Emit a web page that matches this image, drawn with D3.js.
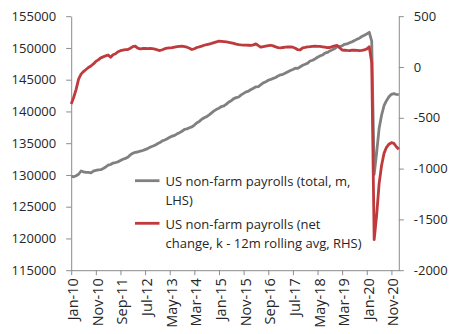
<!DOCTYPE html>
<html><head><meta charset="utf-8">
<script src="https://cdn.jsdelivr.net/npm/d3@7"></script>
<style>
body{margin:0;background:#fff}
svg text{font-family:"Open Sans",sans-serif;fill:#262626}
</style>
</head><body>
<svg id="chart" width="461" height="334"></svg>
<script>
// US non-farm payrolls, total (thousands) - left axis
const payrolls = [
  129798,129705,129865,130110,130620,130484,130406,130398,130340,130604,130732,130801,
  130823,131023,131252,131552,131648,131875,131956,132068,132273,132471,132610,132801,
  133161,133414,133563,133613,133745,133839,133993,134139,134367,134517,134667,134909,
  135099,135364,135500,135704,135932,136112,136228,136474,136664,136882,137163,137256,
  137428,137579,137866,138197,138429,138765,139003,139182,139451,139781,140084,140335,
  140512,140778,140866,141149,141493,141696,142015,142174,142275,142611,142847,143085,
  143212,143449,143665,143876,143917,144216,144505,144666,144914,145042,145202,145340,
  145595,145776,145856,146039,146250,146458,146613,146805,146791,147045,147268,147441,
  147607,147938,148070,148266,148537,148742,148882,149181,149290,149531,149707,149913,
  150191,150192,150360,150576,150638,150816,150965,151152,151360,151545,151806,151990,
  152203,152463,151090,130100,133500,137300,139400,140900,141700,142300,142700,142800,
  142700,142650
];
// Net change, thousands, 12m rolling average - right axis
const netChangeAvg = [
  -365,-300,-220,-120,-70,-45,-25,-5,10,30,55,70,
  90,100,110,118,95,120,130,150,160,165,170,172,
  185,200,205,185,178,182,183,180,182,180,175,168,
  162,170,180,185,188,190,195,200,203,205,200,195,
  185,172,180,192,198,205,214,220,226,232,240,248,
  254,252,250,247,243,238,232,226,221,218,216,215,
  214,212,218,228,210,195,200,205,210,214,208,198,
  190,188,192,195,198,197,195,185,170,168,189,193,
  198,200,203,205,204,202,199,195,190,192,200,207,
  212,190,167,165,163,162,165,166,164,162,163,168,
  178,200,45,-1700,-1460,-1150,-970,-850,-790,-760,-745,-752,
  -785,-810
];
const months = d3.timeMonth.range(new Date(2010,0,1), new Date(2021,2,1)).map(d3.timeFormat("%b-%y"));
const xTickLabels = ["Jan-10","Nov-10","Sep-11","Jul-12","May-13","Mar-14","Jan-15","Nov-15","Sep-16","Jul-17","May-18","Mar-19","Jan-20","Nov-20"];
const leftTicks = [115000,120000,125000,130000,135000,140000,145000,150000,155000];
const rightTicks = [-2000,-1500,-1000,-500,0,500];
const seriesNames = [["US non-farm payrolls (total, m,","LHS)"],["US non-farm payrolls (net","change, k - 12m rolling avg, RHS)"]];
const colors = ["#808080","#be3a3c"];

const svg = d3.select("#chart");
const L = 71.2, R = 398.8, T = 16.2, B = 270.2;
const x = d3.scalePoint().domain(months).range([L, R]);
const yL = d3.scaleLinear().domain([115000,155000]).range([B, T]);
const yR = d3.scaleLinear().domain([-2000,500]).range([B, T]);
const axisColor = "#8c8c8c";

function style(g){
  g.select(".domain").attr("stroke", axisColor);
  g.selectAll(".tick line").attr("stroke", axisColor);
  g.selectAll(".tick text").attr("font-size", 13).attr("fill","#262626");
}

svg.append("g").attr("transform",`translate(${L},0)`)
  .call(d3.axisLeft(yL).tickValues(leftTicks).tickSize(5).tickSizeOuter(0).tickPadding(10).tickFormat(d=>String(d)))
  .call(style);
svg.append("g").attr("transform",`translate(${R},0)`)
  .call(d3.axisRight(yR).tickValues(rightTicks).tickSize(5).tickSizeOuter(0).tickPadding(10).tickFormat(d=>String(d)))
  .call(style);
const xa = svg.append("g").attr("transform",`translate(0,${B})`)
  .call(d3.axisBottom(x).tickValues(xTickLabels).tickSize(5).tickSizeOuter(0))
  .call(style);
xa.selectAll(".tick text").attr("font-size",14.5).attr("transform","rotate(-90)").attr("text-anchor","end")
  .attr("x",-8).attr("y",0).attr("dy","0.45em");

const lineL = d3.line().x((d,i)=>x(months[i])).y(d=>yL(d));
const lineR = d3.line().x((d,i)=>x(months[i])).y(d=>yR(d));
svg.append("path").datum(payrolls).attr("d",lineL).attr("fill","none")
  .attr("stroke",colors[0]).attr("stroke-width",2.8).attr("stroke-linejoin","round");
svg.append("path").datum(netChangeAvg).attr("d",lineR).attr("fill","none")
  .attr("stroke",colors[1]).attr("stroke-width",2.8).attr("stroke-linejoin","round");

// legend
const legY = [180.7, 223.3];
seriesNames.forEach((lines,k)=>{
  const g = svg.append("g");
  g.append("line").attr("x1",135).attr("x2",159.5).attr("y1",legY[k]).attr("y2",legY[k])
    .attr("stroke",colors[k]).attr("stroke-width",2.8);
  lines.forEach((t,j)=>{
    g.append("text").attr("x",165.5).attr("y",legY[k]+5.3+j*19).attr("font-size",13).text(t);
  });
});
</script>
</body></html>
